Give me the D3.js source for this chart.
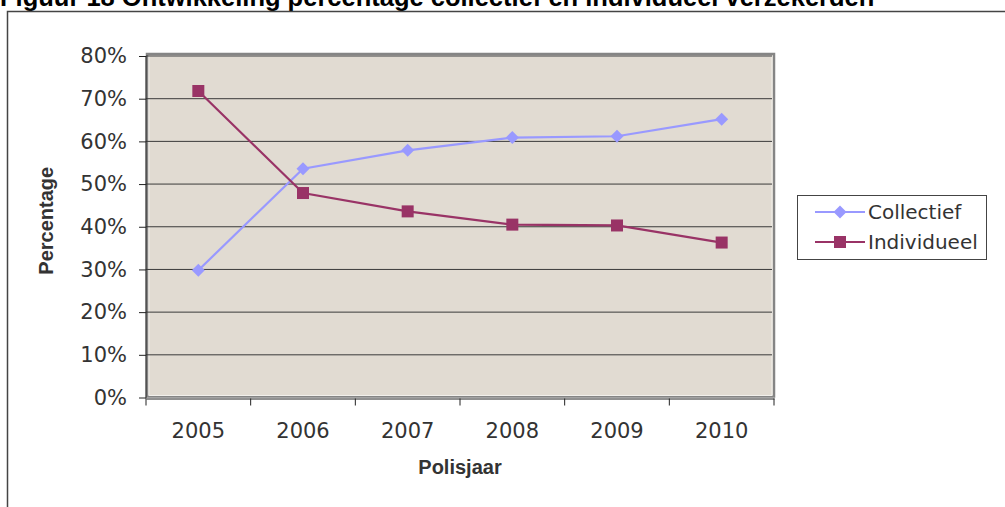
<!DOCTYPE html>
<html>
<head>
<meta charset="utf-8">
<script src="https://cdn.jsdelivr.net/npm/d3@7"></script>
<style>
  body { margin: 0; background: #fff; }
  svg { display: block; }
</style>
</head>
<body>
<div id="chart"></div>
<script>
// data
const years = ["2005", "2006", "2007", "2008", "2009", "2010"];
const collectief = [29.8, 53.6, 57.9, 60.9, 61.2, 65.2];
const individueel = [71.8, 47.9, 43.6, 40.5, 40.3, 36.3];
const yTicks = [0, 10, 20, 30, 40, 50, 60, 70, 80];
const seriesNames = ["Collectief", "Individueel"];
const seriesColors = ["#9999FF", "#993366"];

const W = 1005, H = 507;
const plot = { left: 146, right: 774, top: 56, bottom: 397.5 };

const svg = d3.select("#chart").append("svg")
    .attr("width", W)
    .attr("height", H);

// title (cut off at top of the picture, as in the reference)
svg.append("text")
    .attr("x", 0).attr("y", 6)
    .style("font-family", "'Liberation Sans', Arial, sans-serif")
    .style("font-weight", "bold")
    .style("font-size", "25.5px")
    .attr("fill", "#000")
    .text("Figuur 18 Ontwikkeling percentage collectief en individueel verzekerden");

// outer chart frame, only top and left edges visible
svg.append("rect")
    .attr("x", 7.5).attr("y", 11.5)
    .attr("width", 1200).attr("height", 700)
    .attr("fill", "none")
    .attr("stroke", "#444")
    .attr("stroke-width", 1.5);

const x = d3.scaleBand().domain(years).range([plot.left, plot.right]).padding(0);
const y = d3.scaleLinear().domain([0, 80]).range([plot.bottom, plot.top]);

// plot area
svg.append("rect")
    .attr("x", plot.left + 1).attr("y", y(80) - 2)
    .attr("width", plot.right - plot.left - 1).attr("height", y(0) - y(80) + 1)
    .attr("fill", "#E1DBD2")
    .attr("stroke", "#858585")
    .attr("stroke-width", 2.5);
svg.append("rect")
    .attr("x", plot.left + 3).attr("y", y(80))
    .attr("width", plot.right - plot.left - 5).attr("height", y(0) - y(80) - 2)
    .attr("fill", "none")
    .attr("stroke", "#F2F0EC")
    .attr("stroke-width", 1);

// gridlines
svg.append("g").selectAll("line")
    .data(yTicks.filter(d => d > 0))
    .enter().append("line")
    .attr("x1", plot.left).attr("x2", plot.right - 2)
    .attr("y1", d => y(d)).attr("y2", d => y(d))
    .attr("stroke", "#3a3a3a")
    .attr("stroke-width", 1);

const tickFont = sel => sel
    .style("font-family", "'DejaVu Sans', Verdana, sans-serif")
    .style("font-size", "21px")
    .attr("fill", "#333");

// y axis
const yAxis = svg.append("g")
    .attr("transform", `translate(${plot.left},0)`)
    .call(d3.axisLeft(y).tickValues(yTicks).tickSize(7).tickPadding(12).tickFormat(d => d + "%"));
yAxis.select(".domain").attr("stroke", "#222").attr("d", `M0,${y(80)}V${y(0) + 1}`);
yAxis.selectAll(".tick line").attr("stroke", "#222");
yAxis.selectAll("text").call(tickFont);

// x axis: labels centred in bands, ticks on band boundaries
const xAxis = svg.append("g")
    .attr("transform", `translate(0,${plot.bottom + 1})`)
    .call(d3.axisBottom(x).tickSize(0).tickPadding(25));
xAxis.select(".domain").attr("stroke", "#222");
xAxis.selectAll("text").call(tickFont);
const bounds = years.map(d => x(d)).concat([x.range()[1]]);
xAxis.selectAll(".bound")
    .data(bounds)
    .enter().append("line")
    .attr("class", "bound")
    .attr("x1", d => d).attr("x2", d => d)
    .attr("y1", 0).attr("y2", 7)
    .attr("stroke", "#222");

// axis titles
svg.append("text")
    .attr("x", (plot.left + plot.right) / 2).attr("y", 474)
    .attr("text-anchor", "middle")
    .style("font-family", "'Liberation Sans', Arial, sans-serif")
    .style("font-weight", "bold")
    .style("font-size", "20px")
    .attr("fill", "#333")
    .text("Polisjaar");

svg.append("text")
    .attr("transform", `translate(53,${(plot.top + plot.bottom) / 2 - 6}) rotate(-90)`)
    .attr("text-anchor", "middle")
    .style("font-family", "'Liberation Sans', Arial, sans-serif")
    .style("font-weight", "bold")
    .style("font-size", "20px")
    .attr("fill", "#333")
    .text("Percentage");

// series
const cx = d => x(d) + x.bandwidth() / 2;
const line = d3.line().x(d => cx(d.year)).y(d => y(d.value));
const diamond = (px, py, r) => `M${px},${py - r}L${px + r},${py}L${px},${py + r}L${px - r},${py}Z`;

[collectief, individueel].forEach((vals, i) => {
    const pts = years.map((yr, j) => ({ year: yr, value: vals[j] }));
    svg.append("path")
        .datum(pts)
        .attr("fill", "none")
        .attr("stroke", seriesColors[i])
        .attr("stroke-width", 2.2)
        .attr("d", line);

    if (i === 0) {
        svg.selectAll(".dia")
            .data(pts)
            .enter().append("path")
            .attr("class", "dia")
            .attr("d", d => diamond(cx(d.year), y(d.value), 6.5))
            .attr("fill", seriesColors[i]);
    } else {
        svg.selectAll(".sq")
            .data(pts)
            .enter().append("rect")
            .attr("class", "sq")
            .attr("x", d => cx(d.year) - 6)
            .attr("y", d => y(d.value) - 6)
            .attr("width", 12).attr("height", 12)
            .attr("fill", seriesColors[i]);
    }
});

// legend
const legend = svg.append("g");
legend.append("rect")
    .attr("x", 797.5).attr("y", 195.5)
    .attr("width", 189).attr("height", 64)
    .attr("fill", "#fff")
    .attr("stroke", "#444");

seriesNames.forEach((name, i) => {
    const ry = 212 + i * 30;
    legend.append("line")
        .attr("x1", 815).attr("x2", 865)
        .attr("y1", ry).attr("y2", ry)
        .attr("stroke", seriesColors[i])
        .attr("stroke-width", 2.2);
    if (i === 0) {
        legend.append("path").attr("d", diamond(840, ry, 6.5)).attr("fill", seriesColors[i]);
    } else {
        legend.append("rect")
            .attr("x", 834).attr("y", ry - 6)
            .attr("width", 12).attr("height", 12)
            .attr("fill", seriesColors[i]);
    }
    legend.append("text")
            .attr("x", 868).attr("y", ry)
            .attr("dy", "0.36em")
            .style("font-family", "'DejaVu Sans', Verdana, sans-serif")
            .style("font-size", "20px")
            .attr("fill", "#333")
            .text(name);
});
</script>
</body>
</html>
